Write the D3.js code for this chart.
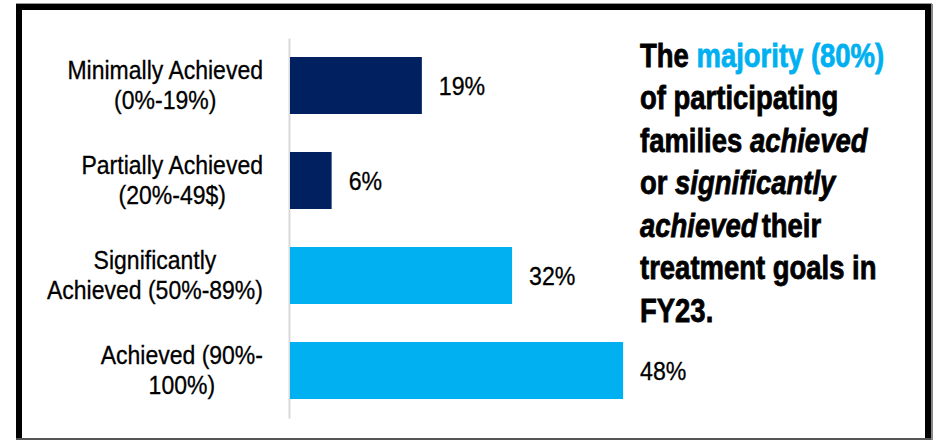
<!DOCTYPE html>
<html>
<head>
<meta charset="utf-8">
<script src="https://cdn.jsdelivr.net/npm/d3@7"></script>
<style>
  html, body { margin: 0; padding: 0; background: #fff; }
  svg { display: block; }
</style>
</head>
<body>
<svg id="chart" width="933" height="440"></svg>
<script>
// ---- data ----
const categories = ["Minimally Achieved", "Partially Achieved", "Significantly Achieved", "Achieved"];
const labelLines = [
  ["Minimally Achieved", "(0%-19%)"],
  ["Partially Achieved", "(20%-49$)"],
  ["Significantly", "Achieved (50%-89%)"],
  ["Achieved (90%-", "100%)"]
];
const values = [19, 6, 32, 48];
const valueLabels = ["19%", "6%", "32%", "48%"];
const barColors = ["#002060", "#002060", "#00B0F0", "#00B0F0"];
const annotation = [
  [{t: "The ", c: "#000"}, {t: "majority (80%)", c: "#00B0F0"}],
  [{t: "of participating"}],
  [{t: "families "}, {t: "achieved", i: true}],
  [{t: "or "}, {t: "significantly", i: true}],
  [{t: "achieved", i: true}, {t: "their", dx: 5}],
  [{t: "treatment goals in"}],
  [{t: "FY23."}]
];

const FONT = "'Liberation Sans', Arial, sans-serif";
const svg = d3.select("#chart");

// frame
svg.append("rect").attr("x", 16).attr("y", 3).attr("width", 916).attr("height", 1).attr("fill", "#999");
svg.append("rect").attr("x", 16).attr("y", 4).attr("width", 915).attr("height", 6).attr("fill", "#000");
svg.append("rect").attr("x", 16).attr("y", 4).attr("width", 6).attr("height", 436).attr("fill", "#000");
svg.append("rect").attr("x", 925).attr("y", 4).attr("width", 6).attr("height", 436).attr("fill", "#000");
svg.append("rect").attr("x", 931).attr("y", 4).attr("width", 2).attr("height", 436).attr("fill", "#888");
svg.append("rect").attr("x", 16).attr("y", 438).attr("width", 915).attr("height", 2).attr("fill", "#555");

// scales
const y = d3.scaleBand().domain(categories).range([38, 418]).paddingInner(0.4).paddingOuter(0.2);
const x = d3.scaleLinear().domain([0, 50]).range([290, 637]);

// axis line
svg.append("g")
  .attr("transform", "translate(289,0)")
  .call(d3.axisLeft(y).tickSize(0).tickFormat(""))
  .call(g => g.select(".domain").attr("stroke", "#D9D9D9").attr("stroke-width", 2));

// bars
svg.selectAll("rect.bar").data(categories).enter().append("rect")
  .attr("class", "bar")
  .attr("x", x(0))
  .attr("y", d => y(d))
  .attr("width", (d, i) => x(values[i]) - x(0))
  .attr("height", y.bandwidth())
  .attr("fill", (d, i) => barColors[i]);

// value labels (horizontally condensed)
const VSX = 0.89;
categories.forEach((c, i) => {
  svg.append("g")
    .attr("transform", `translate(${x(values[i]) + 17},${y(c) + y.bandwidth() / 2}) scale(${VSX},1)`)
    .append("text")
    .attr("dy", "0.36em")
    .attr("font-family", FONT)
    .attr("font-size", 26)
    .attr("fill", "#000")
    .attr("stroke", "#000")
    .attr("stroke-width", 0.3)
    .text(valueLabels[i]);
});

// category labels (centred block, right edge at 263)
const LSX = 0.92;
categories.forEach((c, i) => {
  const lines = labelLines[i];
  const cy = y(c) + y.bandwidth() / 2;
  const lh = 30;
  const g = svg.append("g");
  const texts = lines.map((ln, j) => g.append("text")
    .attr("y", cy + (j - (lines.length - 1) / 2) * lh)
    .attr("dy", "0.36em")
    .attr("text-anchor", "middle")
    .attr("font-family", FONT)
    .attr("font-size", 25)
    .attr("fill", "#000")
    .attr("stroke", "#000")
    .attr("stroke-width", 0.3)
    .text(ln));
  const maxW = d3.max(texts, t => t.node().getComputedTextLength()) * LSX;
  const cx = 263 - maxW / 2;
  g.attr("transform", `translate(${cx},0) scale(${LSX},1)`);
});

// annotation
const ASX = 0.82;
const ann = svg.append("g")
  .attr("transform", `translate(640,0) scale(${ASX},1)`)
  .append("text")
  .attr("font-family", FONT)
  .attr("font-weight", "bold")
  .attr("font-size", 33.5)
  .attr("stroke-width", 0.8);
annotation.forEach((line, i) => {
  line.forEach((seg, k) => {
    const col = seg.c || "#000";
    const ts = ann.append("tspan").text(seg.t).attr("fill", col).attr("stroke", col);
    if (k === 0) ts.attr("x", 0).attr("y", 67 + i * 42.5);
    if (seg.dx) ts.attr("dx", seg.dx);
    if (seg.i) ts.attr("font-style", "italic");
  });
});
</script>
</body>
</html>
